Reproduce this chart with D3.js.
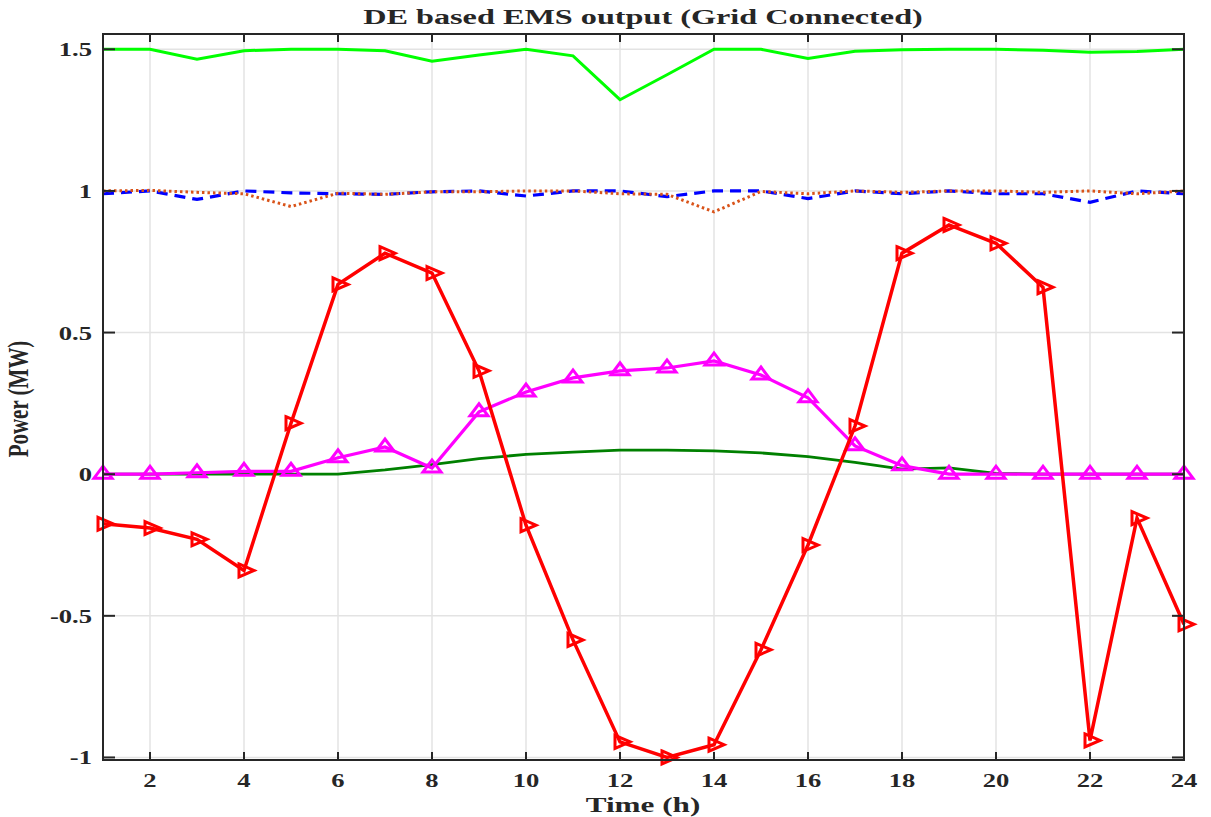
<!DOCTYPE html>
<html>
<head>
<meta charset="utf-8">
<script src="https://cdn.jsdelivr.net/npm/d3@7"></script>
<style>
html,body{margin:0;padding:0;background:#fff;}
svg text{font-family:"Liberation Serif","Times New Roman",serif;font-weight:bold;fill:#262626;}
</style>
</head>
<body>
<svg id="chart" width="1211" height="817"></svg>
<script>
const hours = d3.range(1, 25);
const xTicks = [2,4,6,8,10,12,14,16,18,20,22,24];
const yTicks = [-1,-0.5,0,0.5,1,1.5];
const yTickLabels = ["-1","-0.5","0","0.5","1","1.5"];

const seriesBrightGreen = [1.5,1.5,1.465,1.495,1.5,1.5,1.495,1.458,1.48,1.5,1.477,1.322,1.41,1.5,1.5,1.468,1.493,1.498,1.5,1.5,1.497,1.49,1.492,1.5];
const seriesBlue = [0.99,1.0,0.97,1.0,0.993,0.99,0.988,0.997,1.0,0.982,1.0,1.0,0.98,1.0,1.0,0.973,1.0,0.99,1.0,0.99,0.99,0.96,1.0,0.99];
const seriesOrange = [1.0,1.002,0.995,0.99,0.945,0.992,0.988,0.997,0.997,1.0,1.0,0.99,0.988,0.926,0.998,0.99,1.0,0.995,1.0,1.0,0.995,1.0,0.99,1.0];
const seriesDarkGreen = [0,0,0,0,0,0,0.015,0.034,0.055,0.07,0.078,0.085,0.085,0.082,0.075,0.062,0.042,0.018,0.022,0.003,0,0,0,0];
const seriesMagenta = [0,0,0.005,0.01,0.01,0.058,0.096,0.022,0.22,0.29,0.34,0.365,0.375,0.4,0.35,0.27,0.1,0.03,0,0,0,0,0,0];
const seriesRed = [-0.175,-0.19,-0.23,-0.34,0.18,0.67,0.78,0.71,0.365,-0.18,-0.585,-0.945,-1.0,-0.955,-0.62,-0.25,0.17,0.78,0.88,0.815,0.66,-0.94,-0.155,-0.53];

const svg = d3.select("#chart");
const L = 103, R = 1184, T = 34, B = 760;
const x = d3.scaleLinear().domain([1, 24]).range([L, R]);
const y = d3.scaleLinear().domain([-1.009, 1.554]).range([B, T]);
const SX = 1.4;

// grid
const g = svg.append("g");
g.selectAll(".vg").data(xTicks).enter().append("line")
  .attr("x1", d => x(d)).attr("x2", d => x(d)).attr("y1", T).attr("y2", B)
  .attr("stroke", "#e3e3e3").attr("stroke-width", 1.5);
g.selectAll(".hg").data(yTicks).enter().append("line")
  .attr("x1", L).attr("x2", R).attr("y1", d => y(d)).attr("y2", d => y(d))
  .attr("stroke", "#e3e3e3").attr("stroke-width", 1.5);

const line = arr => d3.line().x((d, i) => x(hours[i])).y(d => y(d))(arr);

svg.append("path").attr("d", line(seriesBrightGreen)).attr("fill", "none")
  .attr("stroke", "#00ff00").attr("stroke-width", 3);
svg.append("path").attr("d", line(seriesBlue)).attr("fill", "none")
  .attr("stroke", "#0000ff").attr("stroke-width", 3.2).attr("stroke-dasharray", "11,7");
svg.append("path").attr("d", line(seriesOrange)).attr("fill", "none")
  .attr("stroke", "#d95319").attr("stroke-width", 3).attr("stroke-dasharray", "2.5,3");
svg.append("path").attr("d", line(seriesDarkGreen)).attr("fill", "none")
  .attr("stroke", "#008000").attr("stroke-width", 2.8);
svg.append("path").attr("d", line(seriesMagenta)).attr("fill", "none")
  .attr("stroke", "#ff00ff").attr("stroke-width", 3.2);
svg.selectAll(".mtri").data(seriesMagenta).enter().append("path")
  .attr("d", (d, i) => {
    const cx = x(hours[i]), cy = y(d);
    return `M${cx - 9},${cy + 4}L${cx + 9},${cy + 4}L${cx},${cy - 8}Z`;
  })
  .attr("fill", "none").attr("stroke", "#ff00ff").attr("stroke-width", 3).attr("stroke-linejoin", "miter");
svg.append("path").attr("d", line(seriesRed)).attr("fill", "none")
  .attr("stroke", "#ff0000").attr("stroke-width", 3.5);
svg.selectAll(".rtri").data(seriesRed).enter().append("path")
  .attr("d", (d, i) => {
    const cx = x(hours[i]), cy = y(d);
    return `M${cx - 5},${cy - 6.5}L${cx + 10},${cy}L${cx - 5},${cy + 6.5}Z`;
  })
  .attr("fill", "none").attr("stroke", "#ff0000").attr("stroke-width", 3);

// axes box
const ax = svg.append("g").attr("stroke", "#262626").attr("stroke-width", 2).attr("fill", "none");
ax.append("rect").attr("x", L).attr("y", T).attr("width", R - L).attr("height", B - T);
xTicks.forEach(t => {
  ax.append("line").attr("x1", x(t)).attr("x2", x(t)).attr("y1", B).attr("y2", B - 8);
  ax.append("line").attr("x1", x(t)).attr("x2", x(t)).attr("y1", T).attr("y2", T + 8);
});
yTicks.forEach(t => {
  ax.append("line").attr("x1", L).attr("x2", L + 12).attr("y1", y(t)).attr("y2", y(t));
  ax.append("line").attr("x1", R).attr("x2", R - 12).attr("y1", y(t)).attr("y2", y(t));
});

// tick labels
xTicks.forEach(t => {
  svg.append("text").attr("transform", `translate(${x(t)},787) scale(${SX},1)`)
    .attr("text-anchor", "middle").attr("font-size", 19).text(t);
});
yTicks.forEach((t, i) => {
  svg.append("text").attr("transform", `translate(92,${y(t) + 7}) scale(${SX},1)`)
    .attr("text-anchor", "end").attr("font-size", 19).text(yTickLabels[i]);
});

// title and labels
svg.append("text").attr("transform", `translate(643,24) scale(1.5,1)`)
  .attr("text-anchor", "middle").attr("font-size", 21.5).attr("fill", "#000").text("DE based EMS output (Grid Connected)");
svg.append("text").attr("transform", `translate(643,812) scale(1.45,1)`)
  .attr("text-anchor", "middle").attr("font-size", 21.5).text("Time (h)");
svg.append("text").attr("transform", `translate(28,399) rotate(-90) scale(1,${SX})`)
  .attr("text-anchor", "middle").attr("font-size", 21).text("Power (MW)");
</script>
</body>
</html>
